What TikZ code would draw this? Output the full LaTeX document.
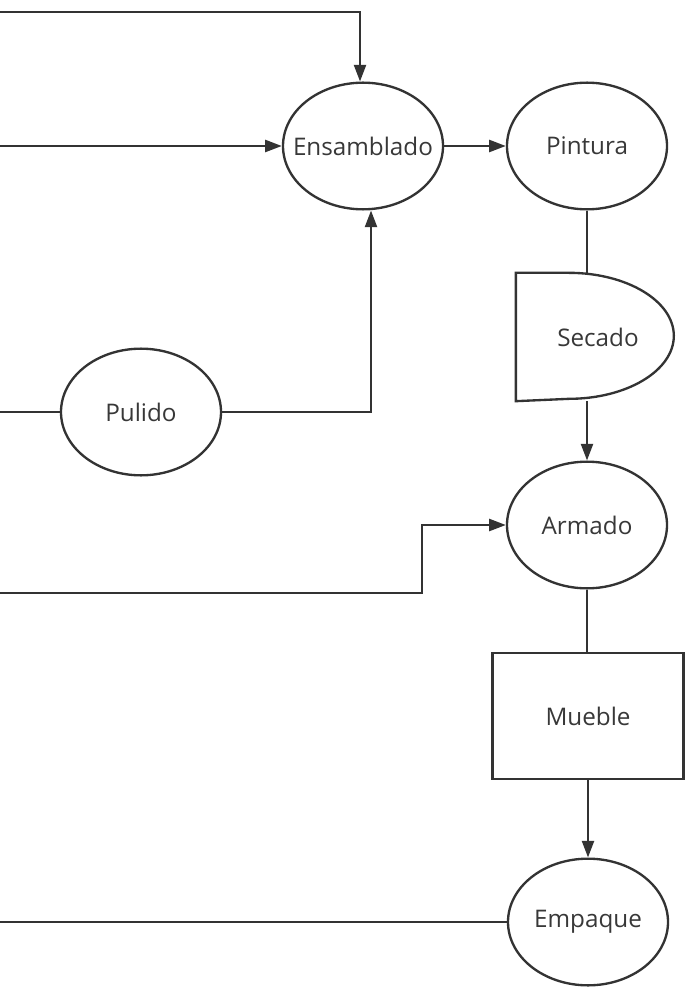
\documentclass[tikz,border=0pt]{standalone}
\usepackage{fontspec}
\setmainfont{Open Sans}
\usepackage{xcolor}
\usetikzlibrary{shapes.geometric, positioning, arrows.meta, calc}

\begin{document}
\begin{tikzpicture}[
    x=0.03cm, y=-0.03cm,
    line width=2pt, draw=black!80,
    every node/.style={font=\fontsize{20.7}{25}\selectfont, text=black!78},
    process/.style={draw=black!80, ellipse, inner ysep=0pt, inner xsep=-0.6cm, minimum width=4.8cm, minimum height=3.8cm},
    product/.style={draw=black!80, rectangle, inner sep=0pt, minimum width=5.73cm, minimum height=3.78cm},
    delaybox/.style={rectangle, inner sep=0pt, minimum width=4.74cm, minimum height=3.78cm},
    flow/.style={-{Triangle[length=0.5cm, width=0.36cm]}}
]
    \useasboundingbox (0,0) rectangle (693,987);

    % ================= STAGES =================
    \node[process] (ENS) at (363, 146) {Ensamblado};
    \node[process] (PIN) at (587, 146) {Pintura};
    \node[delaybox] (SEC) at (596, 337) {};
    \node at (598, 337) {Secado};
    \node[process] (PUL) at (141, 412) {Pulido};
    \node[process] (ARM) at (587, 525) {Armado};
    \node[product] (MUE) at (588, 716) {Mueble};
    \node[process] (EMP) at (588, 922) {Empaque};

    % Secado outline (delay shape)
    \draw (SEC.south west) -- (SEC.north west) -- ++(1.59cm, 0)
        arc[start angle=90, end angle=-90, x radius=3.15cm, y radius=1.89cm] -- cycle;

    % ================= INCOMING LINES =================
    \coordinate (in1) at (0, 12);
    \coordinate (in2) at (0, 146);
    \coordinate (in3) at (0, 412);
    \coordinate (in4) at (0, 593);
    \coordinate (in5) at (0, 922);
    \coordinate (knee) at (422, 525);

    % ================= CONNECTIONS =================
    \draw[flow] (in1) -| ([xshift=-0.09cm]ENS.north);
    \draw[flow] (in2) -- (ENS.west);
    \draw[flow] (ENS.east) -- (PIN.west);

    \draw (in3) -- (PUL.west);
    \draw[flow] (PUL.east) -| ([xshift=0.24cm]ENS.south);

    \draw (PIN.south) -- (PIN.south |- SEC.north);
    \draw[flow] (PIN.south |- SEC.south) -- (ARM.north);

    \draw[flow] (in4) -| (knee) -- (ARM.west);

    \draw (ARM.south) -- (ARM.south |- MUE.north);
    \draw[flow] (MUE.south) -- (EMP.north);

    \draw (in5) -- (EMP.west);

\end{tikzpicture}
\end{document}
